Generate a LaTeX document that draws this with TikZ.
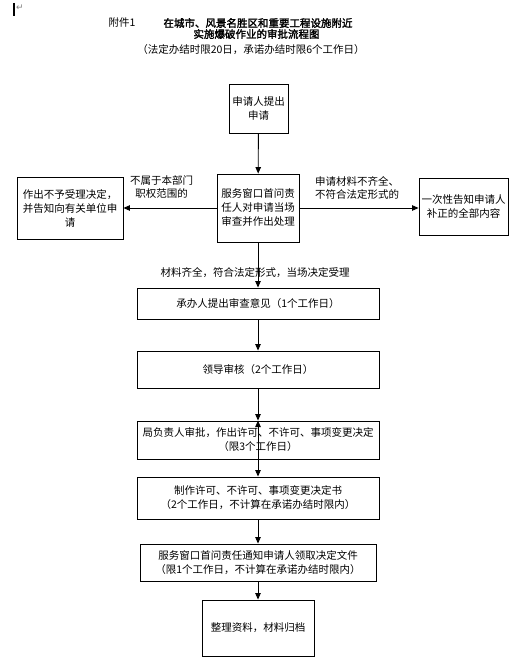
\documentclass[tikz,border=0pt]{standalone}
\usepackage{fontspec}
\setmainfont{Noto Sans CJK SC}
\newfontfamily\titlefont[FakeBold=2]{Noto Sans CJK SC}
\newfontfamily\symfont{DejaVu Sans}
\usepackage{tikz}
\usetikzlibrary{arrows.meta, positioning}

\begin{document}
\begin{tikzpicture}[x=1pt, y=-1pt,
  flowbox/.style={draw, line width=0.9pt, align=center, inner sep=0pt, font=\fontsize{10.5}{14}\selectfont},
  flow/.style={line width=0.9pt, -{Triangle[width=5.5pt, length=6.5pt]}},
  note/.style={align=center, inner sep=0pt, font=\fontsize{10.5}{13}\selectfont}]
  \useasboundingbox (0,0) rectangle (521,666);

  % title
  \draw[line width=1.5pt] (14,3) -- (14,16);
  \node[inner sep=0pt, text=gray, font=\symfont\fontsize{9}{10}\selectfont] (mark) at (20,8) {↵};
  \node[note] (annex) at (122,23) {附件1};
  \node[note, font=\titlefont\fontsize{10.5}{12}\selectfont] (title) at (258,23) {在城市、风景名胜区和重要工程设施附近};
  \node[note, font=\titlefont\fontsize{10.5}{12}\selectfont] (subtitle) at (256.5,34) {实施爆破作业的审批流程图};
  \node[note] (limit) at (251,50) {（法定办结时限20日，承诺办结时限6个工作日）};

  % boxes
  \node[flowbox, minimum width=59, minimum height=49] (apply) at (258.5,108.5) {申请人提出\\申请};
  \node[flowbox, minimum width=82, minimum height=68] (window) at (258,208) {服务窗口首问责\\任人对申请当场\\审查并作出处理};
  \node[flowbox, minimum width=106, minimum height=62] (reject) at (70,208) {作出不予受理决定，\\并告知向有关单位申\\请};
  \node[flowbox, minimum width=89, minimum height=57] (notify) at (463.5,207) {一次性告知申请人\\补正的全部内容};
  \node[flowbox, minimum width=242, minimum height=31] (review) at (258,303.5) {承办人提出审查意见（1个工作日）};
  \node[flowbox, minimum width=242, minimum height=37] (lead) at (258,369.5) {领导审核（2个工作日）};
  \node[flowbox, minimum width=242, minimum height=38] (approve) at (258,440) {局负责人审批，作出许可、不许可、事项变更决定\\（限3个工作日）};
  \node[flowbox, minimum width=242, minimum height=42] (make) at (258,498) {制作许可、不许可、事项变更决定书\\（2个工作日，不计算在承诺办结时限内）};
  \node[flowbox, minimum width=236, minimum height=37] (inform) at (258,562.5) {服务窗口首问责任通知申请人领取决定文件\\（限1个工作日，不计算在承诺办结时限内）};
  \node[flowbox, minimum width=112, minimum height=56] (archive) at (258,628) {整理资料，材料归档};

  % labels
  \node[note] (outside) at (161.5,187) {不属于本部门\\职权范围的};
  \node[note] (incomplete) at (357,188) {申请材料不齐全、\\不符合法定形式的};
  \node[note] (accept) at (255,273) {材料齐全，符合法定形式，当场决定受理};

  % connectors
  \draw[flow] (apply) -- (window);
  \draw[flow] (window.west) -- (reject.east);
  \draw[flow] (window.east) -- (window.east -| notify.west);
  \draw[flow] (window) -- (review);
  \draw[flow] (review) -- (lead);
  \draw[flow] (lead) -- (approve);
  \draw[flow, {Triangle[width=5.5pt, length=6.5pt]}-{Triangle[width=5.5pt, length=6.5pt]}] (approve.north) -- (make.north);
  \draw[flow] (make) -- (inform);
  \draw[flow] (inform) -- (archive);
\end{tikzpicture}
\end{document}
